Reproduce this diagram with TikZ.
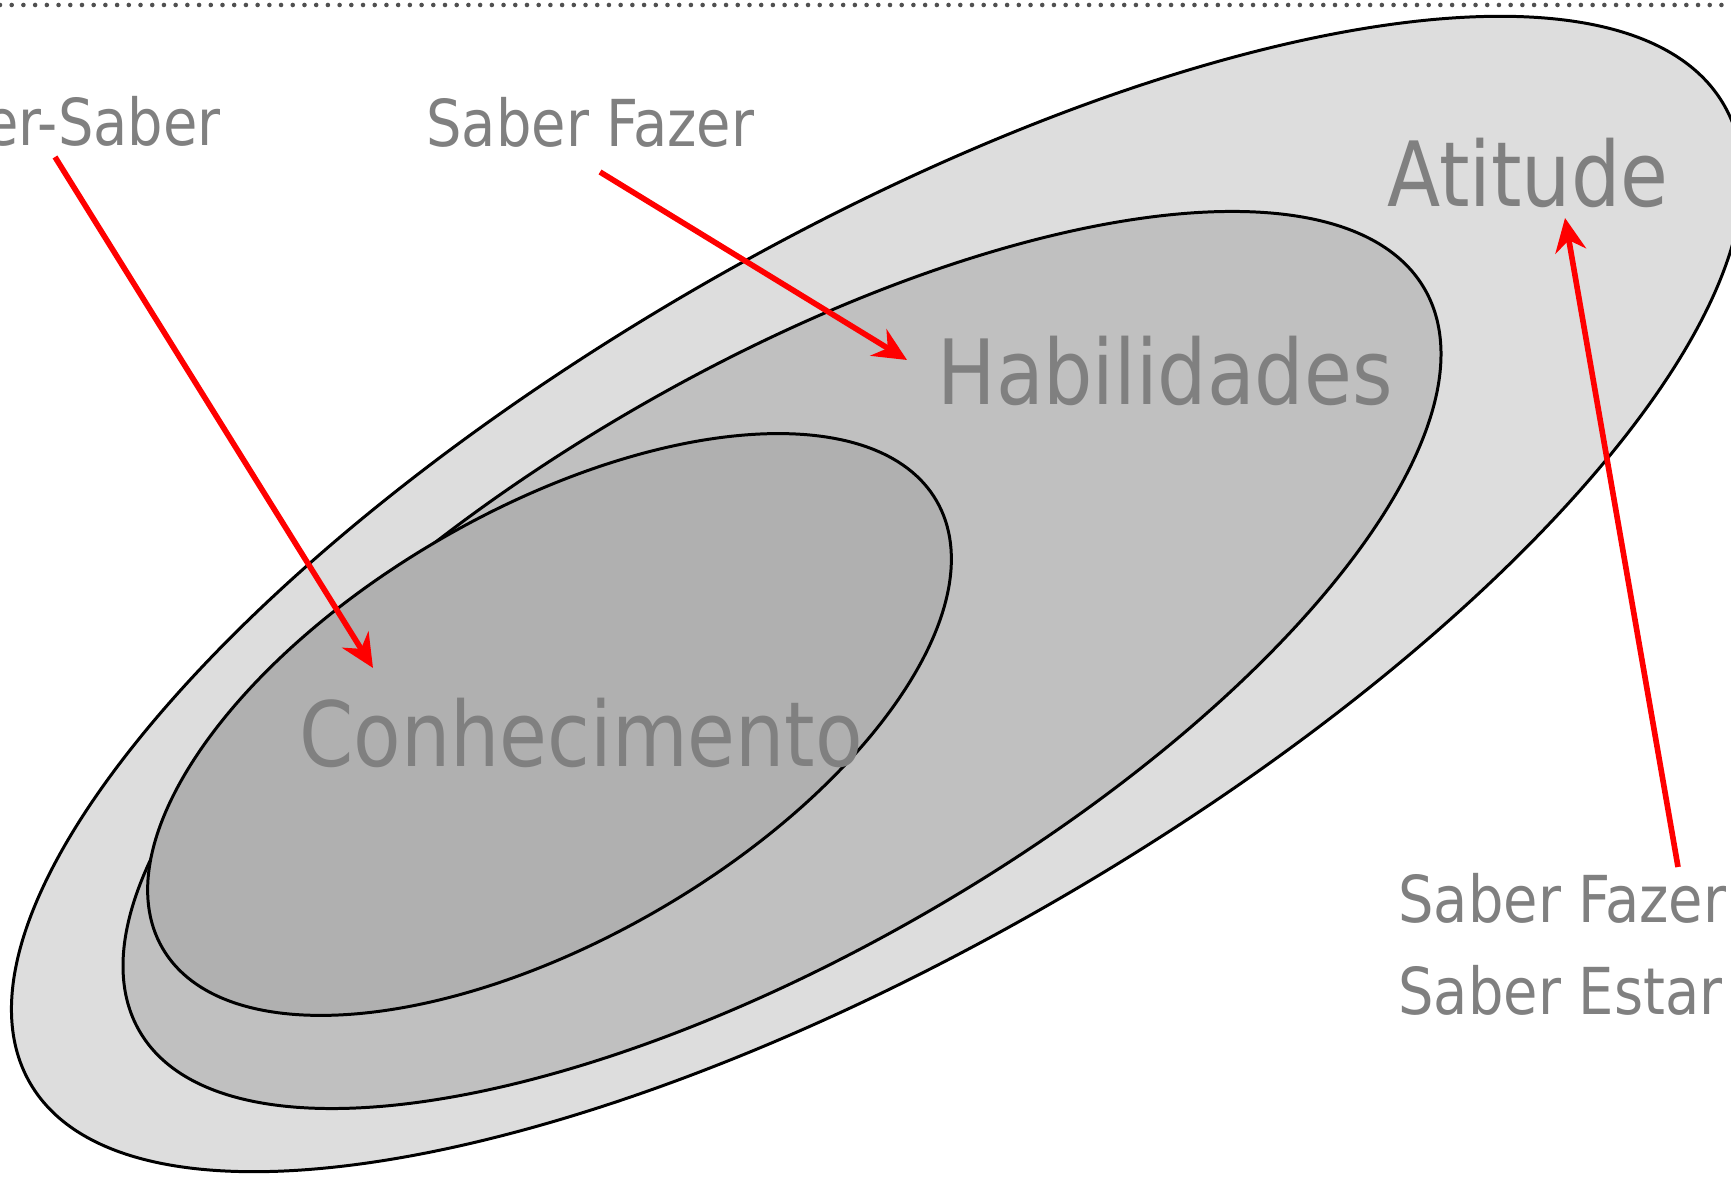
\documentclass[tikz,border=0pt]{standalone}
\usepackage{fontspec}
\newfontfamily\labelfont[FakeStretch=0.96]{DejaVu Sans Condensed}
\usetikzlibrary{arrows.meta}

\definecolor{outerfill}{HTML}{DDDDDD}
\definecolor{middlefill}{HTML}{C0C0C0}
\definecolor{innerfill}{HTML}{B0B0B0}
\definecolor{labelgray}{HTML}{808080}
\definecolor{rulegray}{HTML}{505050}

\begin{document}
\begin{tikzpicture}[x=0.01cm, y=0.01cm, line width=0.85pt,
    smalllabel/.style={text=labelgray, inner sep=0pt, font=\labelfont\fontsize{18.4}{22}\selectfont},
    biglabel/.style={text=labelgray, inner sep=0pt, font=\labelfont\fontsize{25.6}{30}\selectfont},
    pointer/.style={red, line width=1.6pt, -{Stealth[length=9.5pt, width=8.8pt]}}]
    \useasboundingbox (0,0) rectangle (1731,1176);
    \clip (0,0) rectangle (1731,1176);

    % dotted rule
    \draw[rulegray, line width=1.3pt, line cap=round, dash pattern=on 0pt off 3.33pt] (0,1171) -- (1731,1171);

    \draw[fill=outerfill] (877,582) ellipse [x radius=978, y radius=355, rotate=30]; % outer
    \draw[fill=middlefill] (782,516) ellipse [x radius=742, y radius=291, rotate=30]; % middle
    \draw[fill=innerfill] (549.5,451.5) ellipse [x radius=447, y radius=215, rotate=30]; % inner

    \node[smalllabel, anchor=base east] (sabersaber) at (222,1030) {er-Saber};
    \node[smalllabel, anchor=base west] (saberfazer) at (425,1029) {Saber Fazer};
    \node[biglabel, anchor=base west] (atitude) at (1386,969) {Atitude};
    \node[biglabel, anchor=base west] (habilidades) at (936,771) {Habilidades};
    \node[biglabel, anchor=base west] (conhecimento) at (298,409) {Conhecimento};
    \node[smalllabel, anchor=base west] (fazer) at (1397,253) {Saber Fazer};
    \node[smalllabel, anchor=base west] (estar) at (1397,161) {Saber Estar};

    \draw[pointer] ([shift={(-167,-11)}]sabersaber.base east) -- ([shift={(75,99)}]conhecimento.base west);
    \draw[pointer] ([shift={(175,-25)}]saberfazer.base west) -- ([shift={(-29,45)}]habilidades.base west);
    \draw[pointer] ([shift={(281,56)}]fazer.base west) -- ([shift={(179,-11)}]atitude.base west);
\end{tikzpicture}
\end{document}
